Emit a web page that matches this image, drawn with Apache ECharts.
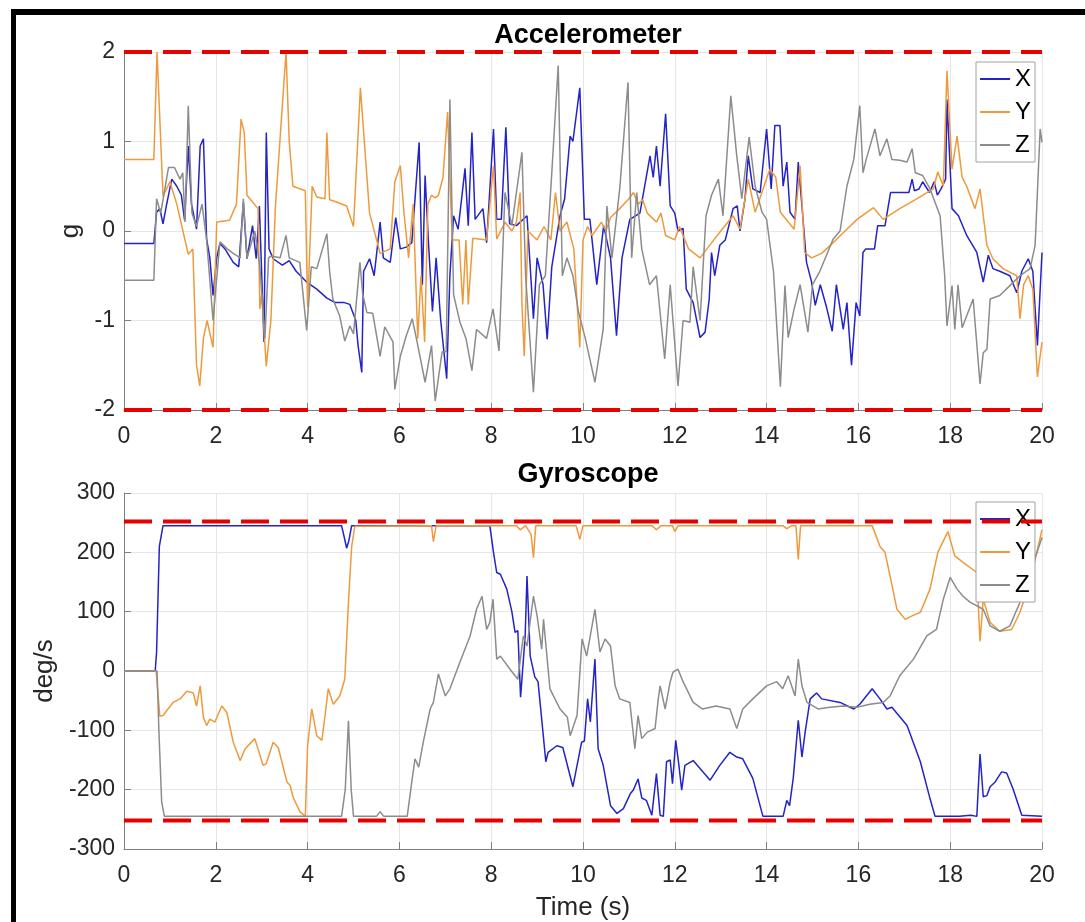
<!DOCTYPE html>
<html><head><meta charset="utf-8">
<script src="https://cdn.jsdelivr.net/npm/echarts@6/dist/echarts.min.js"></script>
<style>html,body{margin:0;padding:0;background:#fff;}#c{width:1085px;height:922px;}</style>
</head><body><div id="c"></div><script>
// ---- Accelerometer (g) : [time s, value] ----
const accelX = [[0,-0.14],[0.65,-0.14],[0.71,0.21],[0.78,0.25],[0.85,0.08],[0.93,0.3],[1.04,0.58],[1.15,0.5],[1.25,0.4],[1.32,0.12],[1.4,0.95],[1.47,0.3],[1.58,0.02],[1.66,0.95],[1.73,1.03],[1.8,-0.09],[1.87,-0.3],[1.94,-0.72],[2.02,-0.3],[2.09,-0.14],[2.2,-0.2],[2.38,-0.35],[2.5,-0.4],[2.6,0.32],[2.68,-0.31],[2.8,0.06],[2.88,-0.31],[2.95,0.28],[3.05,-1.24],[3.1,1.1],[3.16,-0.2],[3.25,-0.31],[3.45,-0.38],[3.6,-0.33],[3.75,-0.45],[3.98,-0.57],[4.2,-0.65],[4.42,-0.75],[4.6,-0.8],[4.8,-0.8],[4.92,-0.82],[5.05,-1.0],[5.1,-1.28],[5.18,-1.58],[5.22,-0.45],[5.35,-0.31],[5.45,-0.5],[5.58,0.1],[5.65,-0.3],[5.8,-0.35],[5.92,0.15],[6.02,-0.2],[6.15,-0.18],[6.27,-0.13],[6.43,0.99],[6.5,-0.6],[6.56,0.62],[6.63,-0.1],[6.72,-0.9],[6.8,-0.3],[6.9,-1.0],[7.03,-1.65],[7.1,-0.5],[7.18,0.17],[7.28,0.02],[7.43,0.7],[7.5,0.06],[7.58,1.1],[7.65,0.13],[7.82,0.25],[7.9,-0.13],[8.05,1.14],[8.12,0.13],[8.22,0.13],[8.32,1.16],[8.4,0.08],[8.55,0.06],[8.78,0.17],[8.85,-0.4],[8.92,-0.98],[9.0,-0.3],[9.13,-0.6],[9.22,-1.21],[9.32,-0.4],[9.5,0.17],[9.6,0.36],[9.72,1.06],[9.78,1.0],[9.93,1.6],[10.03,0.13],[10.15,0.13],[10.3,-0.6],[10.45,0.06],[10.6,-0.3],[10.73,-1.17],[10.85,-0.3],[11.02,0.13],[11.24,0.2],[11.46,0.84],[11.53,0.6],[11.6,0.95],[11.68,0.5],[11.8,1.31],[11.9,0.28],[12.0,0.2],[12.07,0.0],[12.18,0.03],[12.25,-0.65],[12.4,-0.8],[12.55,-1.19],[12.66,-1.13],[12.75,-0.76],[12.8,-0.24],[12.87,-0.5],[12.98,-0.16],[13.1,-0.1],[13.27,0.25],[13.36,0.28],[13.42,0.0],[13.53,0.36],[13.6,0.84],[13.7,0.47],[13.86,0.43],[14.0,1.14],[14.1,0.47],[14.18,1.18],[14.29,1.18],[14.36,0.5],[14.44,0.77],[14.51,0.21],[14.62,0.13],[14.69,0.77],[14.77,0.28],[14.87,-0.35],[14.98,-0.57],[15.06,-0.83],[15.17,-0.6],[15.3,-0.84],[15.43,-1.12],[15.52,-0.6],[15.67,-1.1],[15.75,-0.8],[15.85,-1.5],[15.95,-0.8],[16.03,-0.95],[16.1,-0.24],[16.16,-0.2],[16.35,-0.2],[16.42,0.06],[16.58,0.06],[16.7,0.43],[17.1,0.43],[17.17,0.58],[17.22,0.45],[17.32,0.47],[17.4,0.55],[17.55,0.43],[17.65,0.55],[17.72,0.4],[17.8,0.47],[17.9,0.58],[17.93,1.47],[18.04,0.25],[18.18,0.17],[18.36,-0.05],[18.58,-0.24],[18.72,-0.57],[18.83,-0.27],[18.93,-0.42],[19.08,-0.45],[19.3,-0.5],[19.45,-0.69],[19.56,-0.45],[19.7,-0.31],[19.8,-0.45],[19.9,-1.28],[20,-0.24]];
const accelY = [[0,0.8],[0.65,0.8],[0.72,2.0],[0.85,0.39],[1.0,0.55],[1.15,0.3],[1.4,-0.26],[1.5,-0.2],[1.58,-1.5],[1.65,-1.73],[1.73,-1.2],[1.81,-1.0],[1.94,-1.3],[2.02,0.1],[2.3,0.12],[2.45,0.3],[2.55,1.25],[2.62,1.1],[2.68,0.4],[2.92,0.25],[2.96,-0.87],[3.0,-0.7],[3.1,-1.51],[3.2,-1.0],[3.3,0.28],[3.53,2.0],[3.6,1.0],[3.68,0.5],[3.95,0.45],[4.0,-0.85],[4.1,0.5],[4.2,0.38],[4.38,0.36],[4.42,1.1],[4.48,0.35],[4.6,0.33],[4.85,0.28],[5.0,0.05],[5.15,1.6],[5.35,0.2],[5.58,-0.25],[5.8,-0.2],[5.9,0.55],[6.02,0.73],[6.1,0.2],[6.2,-0.3],[6.3,0.3],[6.4,-1.2],[6.47,-0.5],[6.55,-1.24],[6.62,0.3],[6.7,0.4],[6.78,0.37],[6.85,0.4],[6.95,0.6],[7.05,1.33],[7.15,-0.1],[7.3,-0.1],[7.38,-0.82],[7.45,-0.1],[7.5,-0.82],[7.6,-0.08],[7.9,-0.1],[8.05,0.73],[8.12,-0.09],[8.3,0.1],[8.45,0.0],[8.55,0.1],[8.63,0.43],[8.67,-0.82],[8.72,-1.4],[8.8,0.0],[9.0,-0.1],[9.15,0.05],[9.3,-0.1],[9.4,0.43],[9.5,0.0],[9.65,0.1],[9.8,-0.2],[9.93,-1.3],[10.0,-0.1],[10.1,0.05],[10.2,-0.05],[10.4,0.1],[10.5,0.0],[10.6,0.15],[10.8,0.25],[11.0,0.36],[11.1,0.43],[11.2,0.3],[11.3,0.35],[11.4,0.2],[11.6,0.1],[11.7,0.2],[11.8,-0.05],[12.0,-0.1],[12.1,0.05],[12.3,-0.2],[12.55,-0.3],[12.7,-0.2],[13.0,0.0],[13.27,0.17],[13.42,0.02],[13.6,0.58],[13.75,0.21],[14.07,0.69],[14.2,0.6],[14.3,0.21],[14.6,0.02],[14.73,0.73],[14.83,-0.24],[14.98,-0.3],[15.2,-0.25],[15.45,-0.13],[15.67,-0.02],[15.97,0.13],[16.33,0.26],[16.54,0.13],[16.9,0.25],[17.27,0.36],[17.63,0.47],[17.73,0.66],[17.85,0.5],[17.93,1.79],[18.04,0.69],[18.15,1.06],[18.26,0.6],[18.36,0.5],[18.54,0.25],[18.65,0.47],[18.8,-0.16],[18.93,-0.31],[19.15,-0.42],[19.45,-0.5],[19.52,-0.98],[19.6,-0.6],[19.7,-0.5],[19.8,-0.65],[19.9,-1.63],[20,-1.24]];
const accelZ = [[0,-0.55],[0.65,-0.55],[0.71,0.36],[0.8,0.2],[0.97,0.71],[1.1,0.71],[1.22,0.58],[1.28,0.65],[1.33,0.1],[1.4,1.4],[1.48,0.2],[1.58,0.05],[1.7,0.3],[1.8,-0.1],[1.94,-1.0],[2.09,-0.12],[2.25,-0.2],[2.38,-0.25],[2.53,-0.3],[2.6,0.36],[2.68,-0.3],[2.85,0.0],[2.96,-0.4],[3.07,-1.2],[3.15,-0.3],[3.2,-0.28],[3.4,-0.3],[3.53,-0.05],[3.6,-0.3],[3.83,-0.35],[3.98,-1.11],[4.08,-0.4],[4.2,-0.42],[4.42,-0.03],[4.48,-0.45],[4.55,-0.76],[4.7,-0.95],[4.81,-1.23],[4.92,-1.06],[5.0,-1.15],[5.14,-0.35],[5.2,-0.7],[5.29,-0.91],[5.42,-0.92],[5.58,-1.4],[5.68,-1.07],[5.86,-1.24],[5.9,-1.77],[6.02,-1.4],[6.15,-1.17],[6.28,-0.98],[6.37,-1.2],[6.56,-1.69],[6.7,-1.28],[6.78,-1.9],[6.93,-1.35],[7.02,-1.35],[7.1,1.47],[7.18,-0.71],[7.32,-1.02],[7.45,-1.2],[7.58,-1.56],[7.68,-1.1],[7.9,-1.2],[8.04,-0.87],[8.17,-1.34],[8.3,0.43],[8.45,0.06],[8.67,0.88],[8.75,-0.5],[8.92,-1.8],[9.05,-0.6],[9.18,-0.5],[9.32,0.65],[9.46,1.85],[9.55,-0.5],[9.65,-0.3],[9.78,-0.5],[9.9,-0.9],[10.05,-1.2],[10.26,-1.69],[10.44,-1.1],[10.52,0.28],[10.63,-0.3],[10.8,0.47],[10.98,1.66],[11.06,-0.3],[11.17,0.43],[11.28,-0.2],[11.45,-0.6],[11.6,-0.5],[11.78,-1.43],[11.9,-0.6],[12.07,-1.73],[12.18,-1.0],[12.33,-1.02],[12.4,-0.4],[12.55,-1.0],[12.68,0.17],[12.8,0.4],[12.95,0.58],[13.05,0.17],[13.22,1.51],[13.35,0.84],[13.46,0.36],[13.62,1.05],[13.75,0.5],[13.9,0.21],[14.0,0.13],[14.15,-0.45],[14.3,-1.74],[14.4,-0.61],[14.47,-1.19],[14.6,-0.87],[14.73,-0.6],[14.9,-1.13],[15.0,-0.6],[15.16,-0.45],[15.45,-0.09],[15.6,0.0],[15.75,0.5],[15.9,0.8],[16.03,1.4],[16.1,0.65],[16.17,0.8],[16.36,1.14],[16.47,0.84],[16.62,1.03],[16.73,0.8],[16.9,0.79],[17.06,0.77],[17.17,0.92],[17.24,0.65],[17.4,0.62],[17.56,0.47],[17.78,0.17],[17.88,-0.5],[17.93,-1.06],[18.04,-0.61],[18.1,-1.1],[18.17,-0.6],[18.26,-1.08],[18.5,-0.76],[18.65,-1.71],[18.72,-1.36],[18.8,-1.32],[18.87,-0.76],[19.08,-0.72],[19.3,-0.61],[19.52,-0.5],[19.74,-0.42],[19.85,-0.16],[19.96,1.14],[20,0.99]];
// ---- Gyroscope (deg/s) : [time s, value] ----
const gyroX = [[0,0],[0.68,0],[0.71,32],[0.77,210],[0.85,245],[4.74,245],[4.8,225],[4.85,207],[4.9,220],[4.96,245],[7.97,245],[8.05,200],[8.12,166],[8.2,163],[8.34,138],[8.45,100],[8.52,65],[8.58,68],[8.64,-44],[8.74,59],[8.78,160],[8.85,25],[8.95,-10],[9.02,-18],[9.1,-81],[9.19,-153],[9.24,-137],[9.43,-126],[9.56,-129],[9.78,-195],[9.97,-120],[10.03,-118],[10.1,-47],[10.16,-86],[10.26,20],[10.33,-131],[10.44,-159],[10.6,-227],[10.74,-240],[10.88,-232],[11.03,-207],[11.1,-200],[11.2,-182],[11.28,-214],[11.38,-218],[11.5,-243],[11.6,-173],[11.68,-243],[11.75,-245],[11.82,-153],[11.9,-150],[11.95,-190],[12.02,-117],[12.09,-159],[12.15,-201],[12.22,-159],[12.4,-151],[12.77,-184],[12.98,-159],[13.2,-137],[13.35,-145],[13.48,-148],[13.7,-181],[13.92,-245],[14.36,-245],[14.44,-218],[14.5,-227],[14.58,-181],[14.69,-83],[14.77,-145],[14.84,-103],[14.95,-47],[15.02,-42],[15.09,-37],[15.2,-47],[15.6,-53],[15.9,-64],[16.03,-56],[16.3,-30],[16.47,-47],[16.62,-64],[16.73,-61],[17.06,-92],[17.35,-153],[17.56,-215],[17.67,-245],[18.2,-245],[18.45,-243],[18.58,-245],[18.65,-140],[18.72,-212],[18.8,-210],[18.87,-195],[18.98,-187],[19.12,-170],[19.23,-172],[19.37,-199],[19.56,-243],[20,-245]];
const gyroY = [[0,0],[0.7,0],[0.78,-76],[0.85,-75],[0.93,-67],[1.07,-53],[1.22,-47],[1.37,-34],[1.51,-37],[1.58,-59],[1.66,-25],[1.73,-78],[1.8,-92],[1.87,-81],[1.98,-86],[2.13,-59],[2.24,-70],[2.38,-120],[2.53,-151],[2.64,-131],[2.85,-114],[3.03,-159],[3.1,-156],[3.25,-120],[3.36,-129],[3.55,-187],[3.62,-193],[3.68,-212],[3.83,-237],[3.95,-245],[4.0,-126],[4.09,-64],[4.2,-109],[4.31,-117],[4.38,-75],[4.45,-30],[4.56,-56],[4.7,-42],[4.81,-14],[4.89,116],[4.96,210],[5.03,244],[6.7,245],[6.74,218],[6.8,245],[8.55,245],[8.63,238],[8.75,245],[8.87,230],[8.92,191],[8.97,245],[9.85,245],[9.93,222],[10.0,245],[11.5,245],[11.6,238],[11.7,245],[11.95,245],[12.0,235],[12.07,245],[14.35,245],[14.44,240],[14.55,245],[14.64,245],[14.69,188],[14.74,245],[16.3,245],[16.47,210],[16.58,200],[16.69,160],[16.84,104],[17.02,87],[17.17,93],[17.35,99],[17.56,138],[17.73,200],[17.95,235],[18.1,194],[18.28,183],[18.58,166],[18.65,50],[18.72,121],[18.87,82],[19.08,67],[19.34,70],[19.52,99],[19.74,150],[20,238]];
const gyroZ = [[0,0],[0.72,0],[0.76,-100],[0.82,-220],[0.88,-245],[4.74,-245],[4.82,-200],[4.89,-84],[4.95,-200],[5.0,-245],[5.5,-245],[5.58,-237],[5.66,-245],[6.17,-245],[6.27,-187],[6.34,-148],[6.42,-162],[6.52,-120],[6.67,-64],[6.74,-53],[6.85,-5],[7.0,-42],[7.1,-30],[7.32,15],[7.43,37],[7.54,59],[7.68,104],[7.8,126],[7.9,70],[7.97,82],[8.04,121],[8.12,20],[8.2,25],[8.41,3],[8.58,-14],[8.7,59],[8.78,42],[8.92,126],[9.0,93],[9.1,37],[9.14,87],[9.28,-30],[9.5,-64],[9.66,-78],[9.72,-109],[9.87,-75],[9.98,54],[10.08,25],[10.26,104],[10.37,32],[10.48,54],[10.6,42],[10.7,-25],[10.8,-47],[11.02,-53],[11.13,-131],[11.2,-75],[11.28,-114],[11.4,-103],[11.57,-97],[11.64,-47],[11.68,-25],[11.79,-64],[11.9,-18],[11.96,-2],[12.07,3],[12.18,-18],[12.4,-53],[12.6,-64],[12.9,-59],[13.2,-64],[13.35,-97],[13.48,-64],[13.7,-47],[14.0,-25],[14.22,-18],[14.35,-30],[14.47,-8],[14.62,-42],[14.69,20],[14.77,-25],[14.88,-53],[15.12,-64],[15.38,-61],[15.67,-59],[15.97,-61],[16.25,-56],[16.54,-53],[16.69,-42],[16.9,-8],[17.2,20],[17.49,59],[17.7,70],[17.85,121],[18.0,158],[18.15,138],[18.28,126],[18.43,116],[18.58,110],[18.72,104],[18.87,76],[19.08,67],[19.3,76],[19.52,116],[19.74,166],[20,225]];
// ---- limits & labels ----
const accelLimits = [-2, 2];
const gyroLimits = [-252, 252];
const seriesNames = ['X', 'Y', 'Z'];
const titles = ['Accelerometer', 'Gyroscope'];
const yNames = ['g', 'deg/s'];
const xName = 'Time (s)';

const FONT = '"Liberation Sans", Arial, sans-serif';
const COLORS = ['#2323C8', '#EE9A3C', '#8C8C8C'];
const chart = echarts.init(document.getElementById('c'), null, {renderer: 'canvas'});

function xAx(gi, name) {
  return {
    type: 'value', gridIndex: gi, min: 0, max: 20, interval: 2,
    name: name || '', nameLocation: 'middle', nameGap: 46,
    nameTextStyle: {fontFamily: FONT, fontSize: 26, color: '#262626'},
    axisLine: {show: true, onZero: false, lineStyle: {color: '#808080', width: 1}},
    axisTick: {show: true, inside: true, length: 7, lineStyle: {color: '#808080'}},
    axisLabel: {fontFamily: FONT, fontSize: 23, color: '#262626', margin: 15},
    splitLine: {show: true, lineStyle: {color: '#E6E6E6', width: 1}}
  };
}
function yAx(gi, min, max, interval, name, gap) {
  return {
    type: 'value', gridIndex: gi, min: min, max: max, interval: interval,
    name: name, nameLocation: 'middle', nameGap: gap, nameRotate: 90,
    nameTextStyle: {fontFamily: FONT, fontSize: 26, color: '#262626'},
    axisLine: {show: true, onZero: false, lineStyle: {color: '#808080', width: 1}},
    axisTick: {show: true, inside: true, length: 7, lineStyle: {color: '#808080'}},
    axisLabel: {fontFamily: FONT, fontSize: 23, color: '#262626', margin: 9},
    splitLine: {show: true, lineStyle: {color: '#E6E6E6', width: 1}}
  };
}
function line(name, data, color, idx) {
  return {name: name, type: 'line', data: data, xAxisIndex: idx, yAxisIndex: idx,
    showSymbol: false, symbol: 'none', lineStyle: {color: color, width: 1.5},
    itemStyle: {color: color}, z: 2, animation: false};
}
function limit(v, idx) {
  return {type: 'line', data: [[0, v], [20, v]], xAxisIndex: idx, yAxisIndex: idx,
    symbol: 'none', clip: false, silent: true, z: 5, animation: false,
    lineStyle: {color: '#E60000', width: 4, type: [28, 11]}};
}
function legend(top) {
  return {data: seriesNames, orient: 'vertical', left: 976, top: top,
    icon: 'rect', itemWidth: 30, itemHeight: 2, itemGap: 9,
    padding: [5, 4, 5, 4], backgroundColor: '#fff', borderColor: '#A0A0A0', borderWidth: 1,
    textStyle: {fontFamily: FONT, fontSize: 24, color: '#000'}, selectedMode: false};
}
const accelData = [accelX, accelY, accelZ];
const gyroData = [gyroX, gyroY, gyroZ];
const series = [];
accelData.forEach((d, i) => series.push(line(seriesNames[i], d, COLORS[i], 0)));
gyroData.forEach((d, i) => series.push(line(seriesNames[i], d, COLORS[i], 1)));
accelLimits.forEach(v => series.push(limit(v, 0)));
gyroLimits.forEach(v => series.push(limit(v, 1)));

chart.setOption({
  animation: false,
  backgroundColor: '#fff',
  title: [
    {text: titles[0], left: 583, top: 17, textAlign: 'center',
     textStyle: {fontFamily: FONT, fontSize: 27, fontWeight: 'bold', color: '#000'}},
    {text: titles[1], left: 583, top: 456, textAlign: 'center',
     textStyle: {fontFamily: FONT, fontSize: 27, fontWeight: 'bold', color: '#000'}}
  ],
  grid: [
    {left: 124, top: 52, width: 918, height: 358, containLabel: false},
    {left: 124, top: 493, width: 918, height: 357, containLabel: false}
  ],
  xAxis: [xAx(0, ''), xAx(1, xName)],
  yAxis: [yAx(0, -2, 2, 1, yNames[0], 34), yAx(1, -300, 300, 100, yNames[1], 60)],
  legend: [legend(62), legend(502)],
  series: series,
  graphic: [
    {type: 'rect', shape: {x: 11, y: 9, width: 1074, height: 6}, style: {fill: '#000'}, silent: true},
    {type: 'rect', shape: {x: 11, y: 9, width: 5, height: 913}, style: {fill: '#000'}, silent: true}
  ]
});
</script></body></html>
